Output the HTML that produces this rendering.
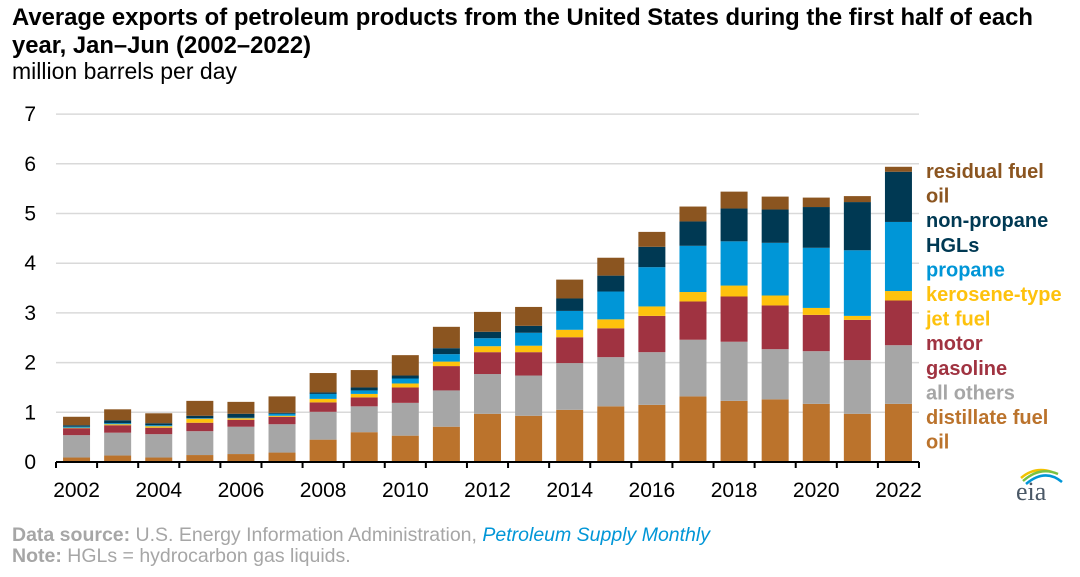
<!DOCTYPE html>
<html><head><meta charset="utf-8"><style>
body{margin:0;background:#fff;}
svg{display:block;font-family:"Liberation Sans",Arial,sans-serif;}
</style></head><body>
<svg id="chart" width="1080" height="577" viewBox="0 0 1080 577">
<text x="12" y="25" font-size="23.8" font-weight="bold" fill="#000" textLength="1021" lengthAdjust="spacingAndGlyphs">Average exports of petroleum products from the United States during the first half of each</text>
<text x="12" y="53" font-size="23.8" font-weight="bold" fill="#000">year, Jan–Jun (2002–2022)</text>
<text x="12" y="79" font-size="23" fill="#000">million barrels per day</text>
<g id="grid"></g>
<g id="bars"></g>
<g id="axes"></g>
<g id="legend"></g>
<text x="12" y="541" font-size="19.5" fill="#a6a6a6"><tspan font-weight="bold">Data source:</tspan> U.S. Energy Information Administration, <tspan fill="#0096d7" font-style="italic">Petroleum Supply Monthly</tspan></text>
<text x="12" y="562" font-size="19.5" fill="#a6a6a6"><tspan font-weight="bold">Note:</tspan> HGLs = hydrocarbon gas liquids.</text>
<g>
<path d="M1021 478 Q1035 466 1052 472" stroke="#f2c200" stroke-width="2.5" fill="none"/>
<path d="M1023 481 Q1040 466 1058 474" stroke="#7ac143" stroke-width="2.5" fill="none"/>
<path d="M1026 484 Q1045 468 1062 482" stroke="#0096d7" stroke-width="2.5" fill="none"/>
<text x="1016" y="500" font-family="Liberation Serif,serif" font-size="26" fill="#4a5866">eia</text>
</g>
</svg>
<script>
const years=[2002,2003,2004,2005,2006,2007,2008,2009,2010,2011,2012,2013,2014,2015,2016,2017,2018,2019,2020,2021,2022];
const distillate=[.09,.13,.09,.14,.16,.19,.45,.60,.53,.71,.97,.93,1.05,1.12,1.15,1.32,1.23,1.26,1.17,.97,1.17];
const allOthers=[.45,.46,.47,.48,.55,.57,.56,.52,.66,.73,.80,.81,.94,.99,1.06,1.14,1.19,1.01,1.06,1.08,1.18];
const motorGasoline=[.14,.15,.13,.17,.14,.15,.19,.18,.31,.49,.44,.47,.52,.58,.73,.77,.91,.88,.73,.81,.90];
const jetFuel=[.01,.02,.03,.08,.03,.02,.07,.07,.08,.09,.12,.13,.15,.18,.19,.19,.22,.20,.14,.08,.19];
const propane=[.02,.02,.02,.01,.01,.04,.10,.07,.10,.15,.16,.26,.38,.56,.79,.93,.89,1.06,1.21,1.32,1.39];
const nonPropaneHGL=[.03,.06,.04,.05,.08,.02,.03,.06,.06,.12,.13,.14,.25,.32,.41,.49,.66,.67,.82,.97,1.01];
const residual=[.17,.22,.20,.30,.24,.33,.39,.35,.41,.43,.40,.38,.38,.36,.30,.30,.34,.26,.19,.12,.10];
const yTicks=[0,1,2,3,4,5,6,7];
const series=[
 {name:'distillate',vals:distillate,color:'#bb732c'},
 {name:'all-others',vals:allOthers,color:'#a6a6a6'},
 {name:'motor-gasoline',vals:motorGasoline,color:'#a03341'},
 {name:'jet-fuel',vals:jetFuel,color:'#fec20d'},
 {name:'propane',vals:propane,color:'#0096d7'},
 {name:'non-propane-hgl',vals:nonPropaneHGL,color:'#003953'},
 {name:'residual-fuel',vals:residual,color:'#8b5520'}];
const NS='http://www.w3.org/2000/svg';
const x0=56,x1=919,yBase=462,pxPer=49.7;
const step=(x1-x0)/years.length,bw=27;
const y=v=>yBase-v*pxPer;
const xc=i=>x0+step*(i+0.5);
function mk(tag,attrs,parent){const e=document.createElementNS(NS,tag);for(const k in attrs)e.setAttribute(k,attrs[k]);parent.appendChild(e);return e;}
const grid=document.getElementById('grid'),bars=document.getElementById('bars'),axes=document.getElementById('axes'),legend=document.getElementById('legend');
yTicks.forEach(t=>{
 if(t>0){const l=mk('line',{x1:x0,x2:x1,y1:y(t),y2:y(t),stroke:'#d9d9d9','stroke-width':1.5},grid);
 
 }
 const tx=mk('text',{x:36,y:y(t)+7,'font-size':21,'text-anchor':'end',fill:'#000'},axes);
 tx.textContent=t;
 
 
});
years.forEach((yr,i)=>{
 let cum=0;
 series.forEach(s=>{
  const v=s.vals[i];
  const r=mk('rect',{x:xc(i)-bw/2,y:y(cum+v),width:bw,height:v*pxPer,fill:s.color},bars);
  
  
  cum+=v;
 });
 if(i%2===0){const t=mk('text',{x:xc(i),y:497,'font-size':21,'text-anchor':'middle',fill:'#000'},axes);
 t.textContent=yr;
 
 }
});
const ax=mk('line',{x1:x0,x2:x1,y1:yBase,y2:yBase,stroke:'#000','stroke-width':2},axes);


for(let i=0;i<=years.length;i++){
 const tk=mk('line',{x1:x0+step*i,x2:x0+step*i,y1:yBase,y2:yBase+6,stroke:'#000','stroke-width':2},axes);
 
 
}
const legendLines=[['residual fuel','#8b5520'],['oil','#8b5520'],['non-propane','#003953'],['HGLs','#003953'],['propane','#0096d7'],['kerosene-type','#fec20d'],['jet fuel','#fec20d'],['motor','#a03341'],['gasoline','#a03341'],['all others','#a6a6a6'],['distillate fuel','#bb732c'],['oil','#bb732c']];
legendLines.forEach((l,i)=>{
 const t=mk('text',{x:926,y:178+i*24.6,'font-size':20,'font-weight':'bold',fill:l[1]},legend);
 t.textContent=l[0];
 
 
});
</script>
</body></html>
